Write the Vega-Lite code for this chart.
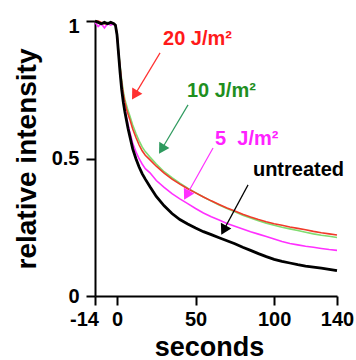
{
  "$schema": "https://vega.github.io/schema/vega-lite/v6.json",
  "width": 242,
  "height": 275,
  "autosize": {"type": "none"},
  "padding": {"left": 95, "top": 21, "right": 19, "bottom": 64},
  "background": "white",
  "config": {
    "view": {"stroke": null},
    "font": "Liberation Sans",
    "axis": {
      "domainColor": "black", "domainWidth": 2, "tickColor": "black", "tickWidth": 2, "tickSize": 9,
      "labelFont": "Liberation Sans", "labelFontWeight": "bold", "labelFontSize": 20, "labelColor": "black",
      "titleFont": "Liberation Sans", "titleFontWeight": "bold", "titleFontSize": 28, "titleColor": "black",
      "grid": false
    }
  },
  "datasets": {
    "curves": [
      {"t": -14, "u": 1.0, "m": 0.995, "g": 1.0, "r": 1.0},
      {"t": -12, "u": 0.995, "m": 0.98, "g": 0.995, "r": 1.0},
      {"t": -10, "u": 0.99, "m": 0.99, "g": 0.99, "r": 0.995},
      {"t": -8, "u": 0.995, "m": 0.975, "g": 0.99, "r": 0.99},
      {"t": -6, "u": 0.99, "m": 0.99, "g": 0.995, "r": 0.99},
      {"t": -4, "u": 0.995, "m": 0.985, "g": 0.99, "r": 0.995},
      {"t": -2, "u": 0.99, "m": 0.99, "g": 0.99, "r": 0.99},
      {"t": -1, "u": 0.985, "m": 0.985, "g": 0.985, "r": 0.985},
      {"t": 0, "u": 0.95, "m": 0.95, "g": 0.955, "r": 0.955},
      {"t": 1, "u": 0.88, "m": 0.88, "g": 0.89, "r": 0.885},
      {"t": 2, "u": 0.81, "m": 0.815, "g": 0.835, "r": 0.83},
      {"t": 3, "u": 0.75, "m": 0.755, "g": 0.785, "r": 0.775},
      {"t": 4, "u": 0.705, "m": 0.71, "g": 0.745, "r": 0.735},
      {"t": 5, "u": 0.67, "m": 0.68, "g": 0.715, "r": 0.705},
      {"t": 6, "u": 0.64, "m": 0.65, "g": 0.695, "r": 0.68},
      {"t": 7, "u": 0.61, "m": 0.625, "g": 0.675, "r": 0.662},
      {"t": 8, "u": 0.585, "m": 0.6, "g": 0.658, "r": 0.645},
      {"t": 10, "u": 0.535, "m": 0.555, "g": 0.622, "r": 0.607},
      {"t": 12, "u": 0.5, "m": 0.525, "g": 0.592, "r": 0.577},
      {"t": 14, "u": 0.47, "m": 0.5, "g": 0.565, "r": 0.55},
      {"t": 16, "u": 0.445, "m": 0.48, "g": 0.542, "r": 0.528},
      {"t": 18, "u": 0.425, "m": 0.463, "g": 0.525, "r": 0.512},
      {"t": 21, "u": 0.397, "m": 0.448, "g": 0.505, "r": 0.495},
      {"t": 25, "u": 0.362, "m": 0.42, "g": 0.48, "r": 0.472},
      {"t": 30, "u": 0.328, "m": 0.395, "g": 0.452, "r": 0.447},
      {"t": 35, "u": 0.3, "m": 0.372, "g": 0.43, "r": 0.425},
      {"t": 40, "u": 0.278, "m": 0.353, "g": 0.41, "r": 0.407},
      {"t": 45, "u": 0.262, "m": 0.336, "g": 0.392, "r": 0.39},
      {"t": 50, "u": 0.247, "m": 0.318, "g": 0.376, "r": 0.375},
      {"t": 55, "u": 0.234, "m": 0.302, "g": 0.36, "r": 0.36},
      {"t": 60, "u": 0.223, "m": 0.288, "g": 0.345, "r": 0.346},
      {"t": 65, "u": 0.212, "m": 0.276, "g": 0.331, "r": 0.333},
      {"t": 70, "u": 0.201, "m": 0.264, "g": 0.318, "r": 0.32},
      {"t": 75, "u": 0.19, "m": 0.254, "g": 0.306, "r": 0.309},
      {"t": 80, "u": 0.177, "m": 0.244, "g": 0.294, "r": 0.297},
      {"t": 85, "u": 0.166, "m": 0.234, "g": 0.284, "r": 0.287},
      {"t": 90, "u": 0.154, "m": 0.225, "g": 0.274, "r": 0.278},
      {"t": 95, "u": 0.143, "m": 0.216, "g": 0.265, "r": 0.27},
      {"t": 100, "u": 0.133, "m": 0.207, "g": 0.257, "r": 0.263},
      {"t": 105, "u": 0.126, "m": 0.198, "g": 0.25, "r": 0.257},
      {"t": 110, "u": 0.12, "m": 0.191, "g": 0.244, "r": 0.251},
      {"t": 115, "u": 0.114, "m": 0.186, "g": 0.238, "r": 0.246},
      {"t": 120, "u": 0.109, "m": 0.181, "g": 0.232, "r": 0.241},
      {"t": 125, "u": 0.105, "m": 0.177, "g": 0.226, "r": 0.235},
      {"t": 130, "u": 0.101, "m": 0.173, "g": 0.221, "r": 0.23},
      {"t": 135, "u": 0.097, "m": 0.169, "g": 0.217, "r": 0.226},
      {"t": 140, "u": 0.092, "m": 0.166, "g": 0.213, "r": 0.222}
    ],
    "notes": [
      {"t": 29.3, "v": 0.913, "label": "20 J/m²", "c": "#ff1a1a"},
      {"t": 44.5, "v": 0.725, "label": "10 J/m²", "c": "#1f8f1f"},
      {"t": 62.4, "v": 0.549, "label": "5\u00a0 J/m²", "c": "#ff22ff"},
      {"t": 86.5, "v": 0.436, "label": "untreated", "c": "#000000"}
    ],
    "arrows": [
      {"t": 27.4, "v": 0.884, "t2": 11.8, "v2": 0.736, "c": "#ff3030", "a": 211},
      {"t": 45.2, "v": 0.695, "t2": 29.0, "v2": 0.539, "c": "#2e9a5e", "a": 211},
      {"t": 61.1, "v": 0.538, "t2": 44.8, "v2": 0.372, "c": "#ff30ff", "a": 209},
      {"t": 83.4, "v": 0.404, "t2": 68.4, "v2": 0.245, "c": "#000000", "a": 208}
    ]
  },
  "layer": [
    {
      "data": {"name": "curves"},
      "transform": [{"fold": ["g", "r", "m"], "as": ["s", "v"]}],
      "mark": {"type": "line", "strokeWidth": 1.6},
      "encoding": {
        "x": {
          "field": "t", "type": "quantitative", "title": "seconds",
          "scale": {"domain": [-14, 140], "nice": false, "zero": false},
          "axis": {
            "values": [-14, 0, 50, 100, 140], "format": "d", "labelFlush": false, "labelOverlap": false, "labelBound": false,
            "labelExpr": "replace(datum.label, '\u2212', '-')",
            "labelPadding": 4,
            "labelOffset": {"condition": {"test": "datum.value < 0", "value": -11}, "value": 0},
            "titleX": 114, "titleY": 59, "titleFontSize": 27, "titleBaseline": "alphabetic", "titleAlign": "center"
          }
        },
        "y": {
          "field": "v", "type": "quantitative", "title": "relative intensity",
          "scale": {"domain": [0, 1], "nice": false},
          "axis": {
            "values": [0, 0.5, 1], "format": "~g", "labelPadding": 7, "labelFlush": false, "labelOverlap": false, "labelBound": false,
            "labelOffset": {"condition": {"test": "datum.value == 1", "value": 5}, "value": 0},
            "titleX": -60, "titleBaseline": "alphabetic", "titleAlign": "center"
          }
        },
        "color": {"field": "s", "type": "nominal", "scale": {"domain": ["g", "r", "m"], "range": ["#80dc70", "#f03a2a", "#ff30ff"]}, "legend": null}
      }
    },
    {
      "data": {"name": "curves"},
      "mark": {"type": "line", "strokeWidth": 2.8, "color": "black"},
      "encoding": {
        "x": {"field": "t", "type": "quantitative", "title": "seconds"},
        "y": {"field": "u", "type": "quantitative", "title": "relative intensity"}
      }
    },
    {
      "data": {"name": "arrows"},
      "mark": {"type": "rule", "strokeWidth": 1.2},
      "encoding": {
        "x": {"field": "t", "type": "quantitative", "title": "seconds"},
        "y": {"field": "v", "type": "quantitative", "title": "relative intensity"},
        "x2": {"field": "t2"},
        "y2": {"field": "v2"},
        "color": {"field": "c", "type": "nominal", "scale": null}
      }
    },
    {
      "data": {"name": "arrows"},
      "mark": {"type": "point", "shape": "triangle", "filled": true, "size": 140, "opacity": 1},
      "encoding": {
        "x": {"field": "t2", "type": "quantitative", "title": "seconds"},
        "y": {"field": "v2", "type": "quantitative", "title": "relative intensity"},
        "angle": {"field": "a", "type": "quantitative", "scale": null},
        "color": {"field": "c", "type": "nominal", "scale": null}
      }
    },
    {
      "data": {"name": "notes"},
      "mark": {"type": "text", "align": "left", "baseline": "alphabetic", "font": "Liberation Sans", "fontWeight": "bold", "fontSize": 20},
      "encoding": {
        "x": {"field": "t", "type": "quantitative", "title": "seconds"},
        "y": {"field": "v", "type": "quantitative", "title": "relative intensity"},
        "text": {"field": "label"},
        "color": {"field": "c", "type": "nominal", "scale": null}
      }
    }
  ]
}
